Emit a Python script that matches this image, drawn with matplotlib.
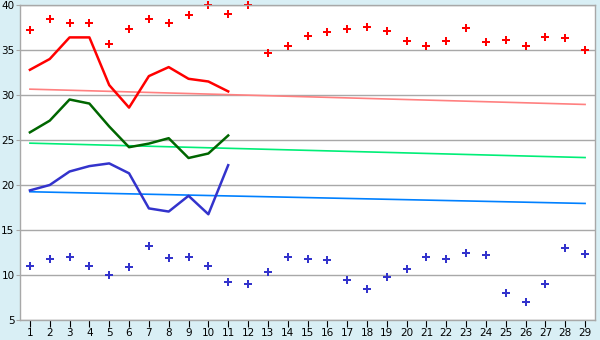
import matplotlib
matplotlib.use("Agg")
import matplotlib.pyplot as plt

# --- data ---
days = list(range(1, 30))
line_days = list(range(1, 12))

red_points = [37.2, 38.4, 38.0, 38.0, 35.7, 37.3, 38.4, 38.0, 38.9, 40.0,
              39.0, 40.0, 34.7, 35.4, 36.6, 37.0, 37.3, 37.6, 37.1, 36.0,
              35.4, 36.0, 37.4, 35.85, 36.1, 35.5, 36.5, 36.3, 35.0]
blue_points = [11.0, 11.75, 12.0, 11.0, 10.0, 10.9, 13.2, 11.85, 12.0, 11.0,
               9.2, 9.0, 10.3, 12.0, 11.75, 11.65, 9.5, 8.5, 9.75, 10.65,
               12.0, 11.75, 12.5, 12.2, 8.0, 7.0, 9.0, 13.0, 12.3]

red_line = [32.8, 34.0, 36.4, 36.4, 31.1, 28.6, 32.1, 33.1, 31.8, 31.5, 30.4]
green_line = [25.85, 27.15, 29.5, 29.05, 26.5, 24.2, 24.6, 25.2, 23.0, 23.5, 25.5]
blue_line = [19.4, 20.0, 21.5, 22.1, 22.4, 21.3, 17.4, 17.05, 18.8, 16.75, 22.2]

trend_x = [1, 29]
red_trend = [30.65, 28.95]
green_trend = [24.65, 23.05]
blue_trend = [19.25, 17.95]

bg = "#d9eff5"
gridc = "#a8a8a8"

fig = plt.figure(figsize=(6, 3.4), dpi=100, facecolor=bg)
ax = fig.add_axes([20 / 600, 20 / 340, 575 / 600, 315 / 340])
ax.set_facecolor("white")

ax.set_xlim(0.5, 29.5)
ax.set_ylim(5, 40)
ax.set_yticks(range(5, 41, 5))
ax.set_xticks(days)
ax.yaxis.grid(True, color=gridc, linewidth=1)
ax.set_axisbelow(True)

for s in ax.spines.values():
    s.set_color(gridc)
    s.set_linewidth(1)

ax.tick_params(axis="y", direction="out", length=3, color=gridc, pad=1,
               labelsize=7.5, labelcolor="black")
ax.tick_params(axis="x", direction="out", length=5, color="black", pad=1,
               labelsize=7.5, labelcolor="black")

# trend lines
ax.plot(trend_x, red_trend, color="#ff8080", linewidth=1.2)
ax.plot(trend_x, green_trend, color="#00ee77", linewidth=1.2)
ax.plot(trend_x, blue_trend, color="#0080ff", linewidth=1.2)

# main lines
ax.plot(line_days, red_line, color="#ff0000", linewidth=1.8)
ax.plot(line_days, green_line, color="#006600", linewidth=1.8)
ax.plot(line_days, blue_line, color="#3333cc", linewidth=1.8)

# scatter points
ax.plot(days, red_points, linestyle="none", marker="P", markersize=5.2,
        color="#ff0000", markeredgewidth=0, clip_on=False)
ax.plot(days, blue_points, linestyle="none", marker="P", markersize=5.2,
        color="#3333cc", markeredgewidth=0, clip_on=False)

fig.savefig("out.png", dpi=100, facecolor=bg)
